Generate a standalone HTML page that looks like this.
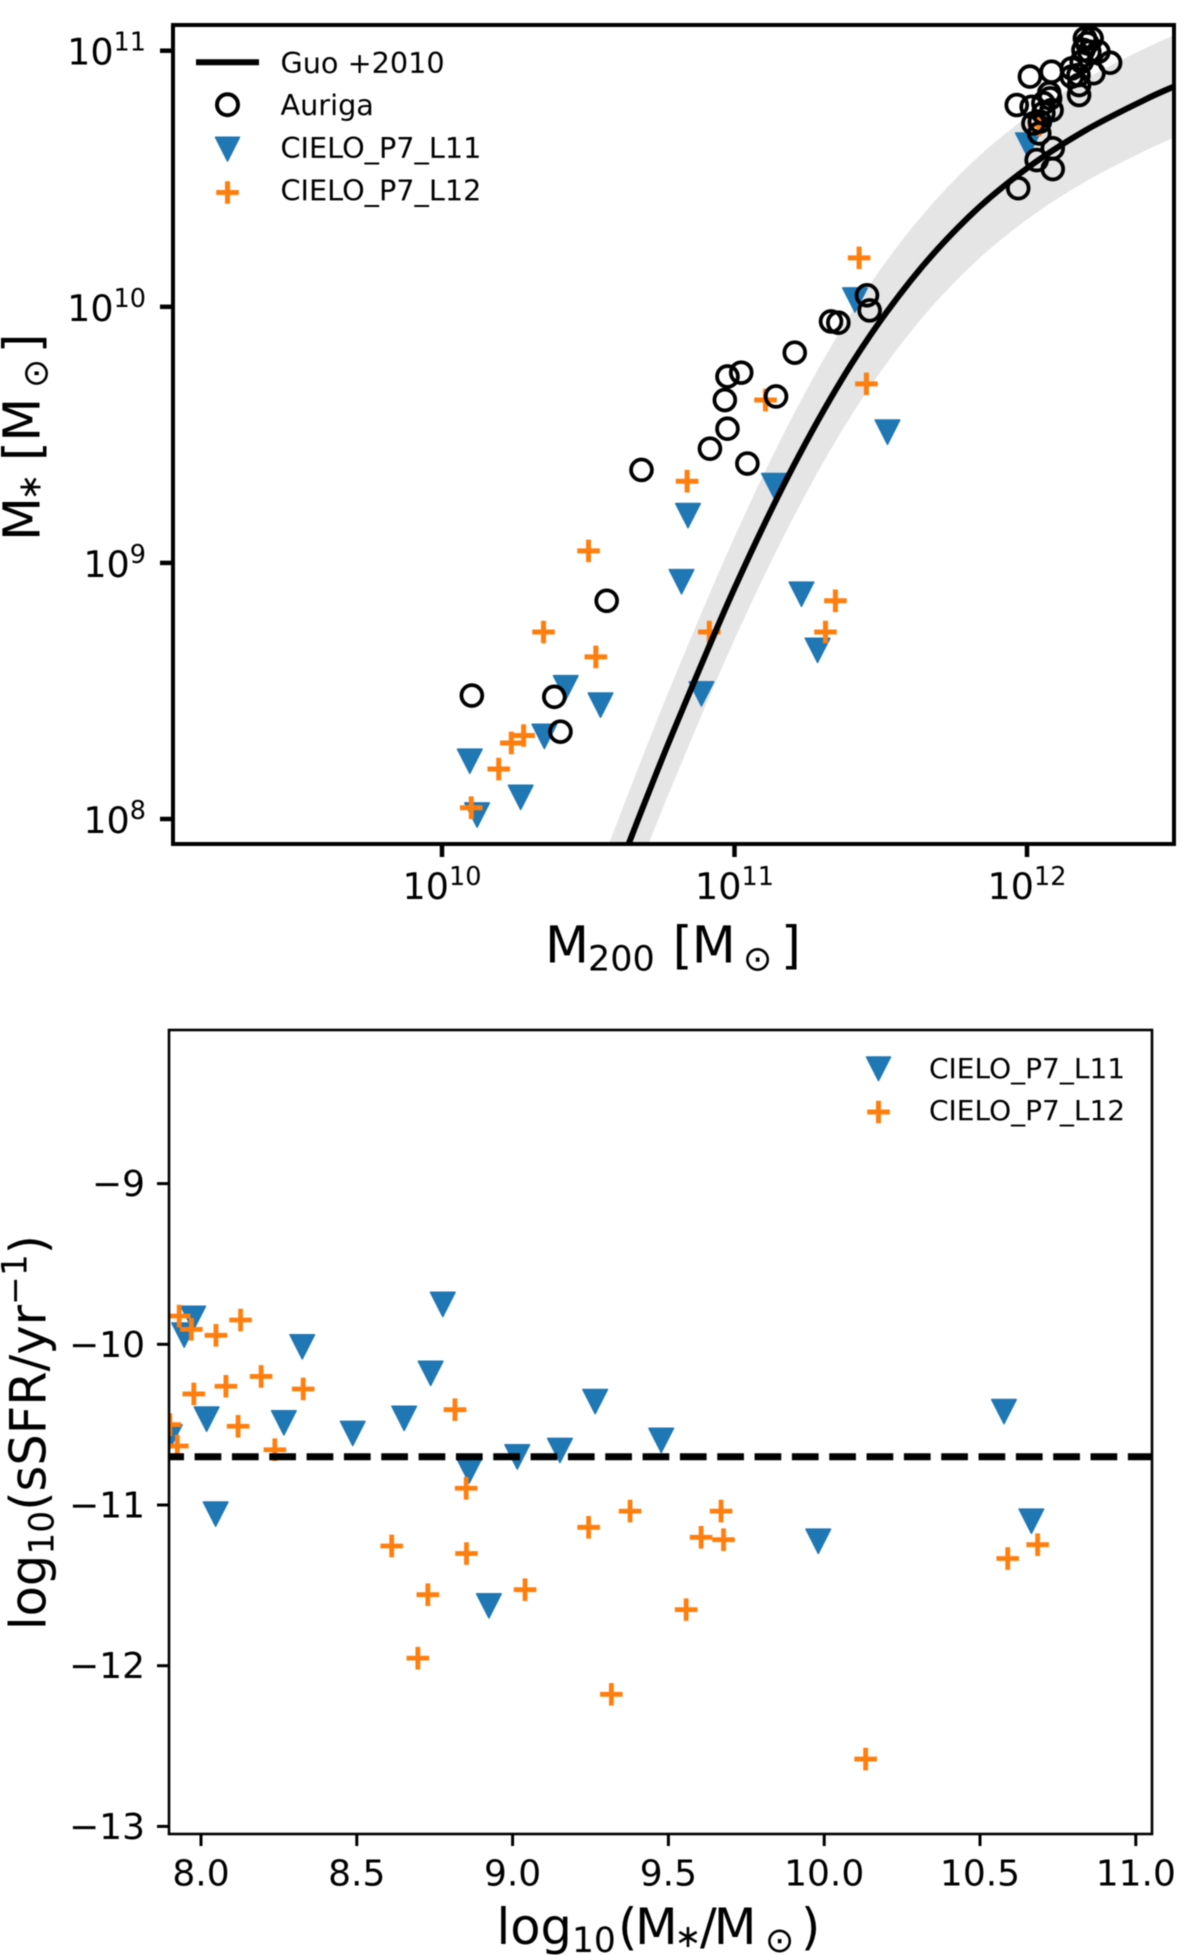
<!DOCTYPE html>
<html>
<head>
<meta charset="utf-8">
<title>Stellar mass and sSFR chart</title>
<style>
html,body{margin:0;padding:0;background:#fff;}
svg{display:block;font-family:"DejaVu Sans","Liberation Sans",sans-serif;fill:#000;filter:blur(0.45px);}
</style>
</head>
<body>
<svg id="figure" xmlns="http://www.w3.org/2000/svg" width="1200" height="1955" viewBox="0 0 1200 1955">
  <defs>
    <clipPath id="clip-top"><rect x="173" y="25" width="1001" height="819"/></clipPath>
    <clipPath id="clip-bot"><rect x="169" y="1030" width="983" height="804"/></clipPath>
  </defs>
  <rect x="0" y="0" width="1200" height="1955" fill="#fff"/>
  <g id="top-marks" clip-path="url(#clip-top)"></g>
  <g id="bot-marks" clip-path="url(#clip-bot)"></g>
  <rect x="173" y="25" width="1001" height="819" fill="none" stroke="#000" stroke-width="4"/>
  <rect x="169" y="1030" width="983" height="804" fill="none" stroke="#000" stroke-width="2.6"/>
  <g id="top-ticks"></g>
  <g id="bot-ticks"></g>

  <g>
    <line x1="196" y1="62.3" x2="259" y2="62.3" stroke="#000" stroke-width="6"/>
    <text x="280.5" y="73" font-size="28.7">Guo +2010</text>
    <circle cx="227.5" cy="104.7" r="10.5" fill="none" stroke="#000" stroke-width="4"/>
    <text x="280.5" y="115" font-size="28.7">Auriga</text>
    <path d="M215.5 137.3H239.5L227.5 161Z" fill="#1f77b4" stroke="#1f77b4" stroke-width="1.5" stroke-linejoin="round"/>
    <text x="280.5" y="158" font-size="28.7">CIELO_P7_L11</text>
    <path d="M216.2 192.5H238.8M227.5 181.2V203.8" fill="none" stroke="#ff7f0e" stroke-width="5"/>
    <text x="280.5" y="200.5" font-size="28.7">CIELO_P7_L12</text>
  </g>

  <g>
    <path d="M866.5 1057H890.5L878.5 1080.5Z" fill="#1f77b4" stroke="#1f77b4" stroke-width="1.5" stroke-linejoin="round"/>
    <text x="929" y="1078" font-size="28">CIELO_P7_L11</text>
    <path d="M867.2 1112H889.8M878.5 1100.7V1123.3" fill="none" stroke="#ff7f0e" stroke-width="5"/>
    <text x="929" y="1120" font-size="28">CIELO_P7_L12</text>
  </g>

  <text font-size="51"><tspan x="545" y="962.3">M</tspan><tspan x="588" y="970.7" font-size="35">200</tspan><tspan x="672.6" y="962.3">[</tspan><tspan x="691.7" y="962.3">M</tspan><tspan x="743" y="970.5" font-size="35">⊙</tspan><tspan x="781" y="962.3">]</tspan></text>
  <text transform="translate(39.5,541) rotate(-90)" font-size="51"><tspan x="0" y="0">M</tspan><tspan x="40.6" y="1" font-size="32">∗</tspan><tspan x="79.9" y="0">[</tspan><tspan x="99.3" y="0">M</tspan><tspan x="153" y="8" font-size="35">⊙</tspan><tspan x="187.7" y="0">]</tspan></text>
  <text font-size="49.5"><tspan x="496.5" y="1944">log</tspan><tspan font-size="34.5" y="1952">10</tspan><tspan x="618" y="1944">(</tspan><tspan x="635" y="1944">M</tspan><tspan x="674.6" y="1947" font-size="32">∗</tspan><tspan x="700" y="1944">/</tspan><tspan x="713.7" y="1944">M</tspan><tspan x="765" y="1952" font-size="35">⊙</tspan><tspan x="801" y="1944">)</tspan></text>
  <text transform="translate(45.5,1432.5) rotate(-90)" font-size="49.5" text-anchor="middle">log<tspan font-size="34.5" dy="8">10</tspan><tspan dy="-8">(sSFR/yr</tspan><tspan font-size="34.5" dy="-19">−1</tspan><tspan dy="19">)</tspan></text>
</svg>
<script>
// ---- top panel data (log10 of solar masses) ----
const guoLogM200 = [10.55, 10.6, 10.65, 10.7, 10.8, 11.0, 11.2, 11.4, 11.6, 11.8, 12.0, 12.2, 12.4, 12.5];
const guoLogMstar = [7.642, 7.79, 7.938, 8.084, 8.367, 8.901, 9.375, 9.777, 10.099, 10.35, 10.541, 10.689, 10.807, 10.859];
const guoScatterDex = [0.2];
const aurigaLogM200 = [10.102, 10.384, 10.405, 10.563, 10.682, 10.916, 10.976, 10.967, 10.976, 11.023, 11.044, 11.142, 11.206, 11.330, 11.355, 11.453, 11.462, 12.198, 12.221, 12.206, 12.193, 12.213, 12.244, 12.284, 12.153, 12.176, 12.153, 12.178, 12.178, 12.227, 12.187, 12.010, 12.084, 11.965, 12.016, 12.076, 12.079, 12.084, 12.056, 12.022, 12.042, 12.044, 12.088, 12.033, 12.088, 11.970, 12.056];
const aurigaLogMstar = [8.482, 8.477, 8.341, 8.852, 9.363, 9.446, 9.524, 9.636, 9.728, 9.743, 9.388, 9.650, 9.821, 9.943, 9.938, 10.045, 9.986, 11.048, 11.048, 11.029, 11.003, 10.996, 10.996, 10.953, 10.931, 10.905, 10.899, 10.866, 10.827, 10.912, 10.957, 10.899, 10.918, 10.788, 10.781, 10.834, 10.814, 10.768, 10.795, 10.716, 10.677, 10.723, 10.619, 10.573, 10.538, 10.463, 10.756];
const l11LogM200 = [10.120, 10.095, 10.269, 10.350, 10.423, 10.542, 10.819, 10.841, 10.887, 11.135, 11.229, 11.284, 11.412, 11.523, 12.003];
const l11LogMstar = [8.016, 8.226, 8.085, 8.323, 8.513, 8.445, 8.927, 9.185, 8.489, 9.302, 8.878, 8.659, 10.027, 9.511, 10.632];
const l12LogM200 = [10.100, 10.194, 10.237, 10.279, 10.347, 10.501, 10.526, 10.838, 10.914, 11.106, 11.311, 11.345, 11.426, 11.451, 12.041];
const l12LogMstar = [8.044, 8.195, 8.297, 8.326, 8.730, 9.047, 8.633, 9.319, 8.730, 9.636, 8.730, 8.852, 10.191, 9.699, 10.710];
const topXTicks = [10, 11, 12];
const topXTickExps = ['10', '11', '12'];
const topYTicks = [8, 9, 10, 11];
const topYTickExps = ['8', '9', '10', '11'];
// ---- bottom panel data ----
const sfrL11LogMstar = [7.975, 7.946, 8.018, 8.047, 8.266, 8.325, 8.487, 8.652, 8.737, 8.776, 8.861, 9.015, 9.152, 9.265, 9.477, 9.981, 10.577, 10.665, 8.924, 7.900];
const sfrL11LogSsfr = [-9.838, -9.942, -10.465, -11.056, -10.488, -10.015, -10.554, -10.460, -10.180, -9.751, -10.787, -10.700, -10.660, -10.356, -10.597, -11.225, -10.418, -11.100, -11.627, -10.575];
const sfrL12LogMstar = [7.930, 7.969, 8.048, 8.127, 7.977, 8.080, 8.193, 8.328, 8.119, 7.924, 7.900, 8.237, 8.815, 8.851, 8.612, 8.852, 8.728, 8.696, 9.040, 9.244, 9.377, 9.317, 9.557, 9.605, 9.669, 9.677, 10.133, 10.589, 10.685];
const sfrL12LogSsfr = [-9.824, -9.907, -9.944, -9.849, -10.309, -10.261, -10.200, -10.278, -10.510, -10.633, -10.500, -10.656, -10.407, -10.896, -11.255, -11.302, -11.558, -11.953, -11.527, -11.139, -11.038, -12.178, -11.651, -11.201, -11.038, -11.216, -12.581, -11.333, -11.247];
const quenchedThreshold = [-10.70];
const botXTicks = [8, 8.5, 9, 9.5, 10, 10.5, 11];
const botXTickLabels = ['8.0', '8.5', '9.0', '9.5', '10.0', '10.5', '11.0'];
const botYTicks = [-9, -10, -11, -12, -13];
const botYTickLabels = ['−9', '−10', '−11', '−12', '−13'];

const NS = 'http://www.w3.org/2000/svg';
function xTop(v) { return 442 + (v - 10) * 292.5; }
function yTop(v) { return 819 - (v - 8) * 256.1; }
function xBot(v) { return 201 + (v - 8) * 311.6; }
function yBot(v) { return 1344.3 - (v + 10) * 160.7; }
function mk(tag, parent, attrs) {
  const n = document.createElementNS(NS, tag);
  for (const k in attrs) n.setAttribute(k, attrs[k]);
  parent.appendChild(n);
  return n;
}
function smooth(pts) {
  let d = 'M' + pts[0][0] + ' ' + pts[0][1];
  for (let i = 0; i < pts.length - 1; i++) {
    const p0 = pts[Math.max(i - 1, 0)], p1 = pts[i], p2 = pts[i + 1], p3 = pts[Math.min(i + 2, pts.length - 1)];
    d += 'C' + (p1[0] + (p2[0] - p0[0]) / 6) + ' ' + (p1[1] + (p2[1] - p0[1]) / 6) + ' ' +
         (p2[0] - (p3[0] - p1[0]) / 6) + ' ' + (p2[1] - (p3[1] - p1[1]) / 6) + ' ' + p2[0] + ' ' + p2[1];
  }
  return d;
}
function triPath(cx, cy) {
  return 'M' + (cx - 12.3) + ' ' + (cy - 12) + 'H' + (cx + 12.3) + 'L' + cx + ' ' + (cy + 12.2) + 'Z';
}
function plusPath(cx, cy) {
  return 'M' + (cx - 11.3) + ' ' + cy + 'H' + (cx + 11.3) + 'M' + cx + ' ' + (cy - 11.3) + 'V' + (cy + 11.3);
}
function tickText(parent, x, y, anchor, size, exp) {
  const t = mk('text', parent, { x: x, y: y, 'text-anchor': anchor, 'font-size': size });
  if (exp !== undefined) {
    t.appendChild(document.createTextNode('10'));
    const s = mk('tspan', t, { 'font-size': 25.5, dy: -14 });
    s.textContent = exp;
  }
  return t;
}

const topMarks = document.getElementById('top-marks');
const botMarks = document.getElementById('bot-marks');
const topTicks = document.getElementById('top-ticks');
const botTicks = document.getElementById('bot-ticks');

// Guo band
const upper = guoLogM200.map((m, i) => [xTop(m), yTop(guoLogMstar[i] + guoScatterDex[0])]);
const lower = guoLogM200.map((m, i) => [xTop(m), yTop(guoLogMstar[i] - guoScatterDex[0])]).reverse();
const band = mk('path', topMarks, { d: smooth(upper) + smooth(lower).replace('M', 'L') + 'Z', fill: '#e5e5e5', stroke: 'none' });



// L11 points, top panel
l11LogM200.forEach((m, i) => {
  const el = mk('path', topMarks, { d: triPath(xTop(m), yTop(l11LogMstar[i])), fill: '#1f77b4', stroke: '#1f77b4', 'stroke-width': 1.5, 'stroke-linejoin': 'round' });
  
  
});
// L12 points, top panel
l12LogM200.forEach((m, i) => {
  const el = mk('path', topMarks, { d: plusPath(xTop(m), yTop(l12LogMstar[i])), fill: 'none', stroke: '#ff7f0e', 'stroke-width': 5 });
  
  
});
// Guo line
const guoLine = mk('path', topMarks, { d: smooth(guoLogM200.map((m, i) => [xTop(m), yTop(guoLogMstar[i])])), fill: 'none', stroke: '#000', 'stroke-width': 6 });


// Auriga
aurigaLogM200.forEach((m, i) => {
  const el = mk('circle', topMarks, { cx: xTop(m), cy: yTop(aurigaLogMstar[i]), r: 10.4, fill: 'none', stroke: '#000', 'stroke-width': 3.8 });
  
  
});

// top ticks
topXTicks.forEach((v, i) => {
  const tk = mk('line', topTicks, { x1: xTop(v), x2: xTop(v), y1: 844, y2: 857, stroke: '#000', 'stroke-width': 4.5 });
  
  
  const lb = tickText(topTicks, xTop(v), 899, 'middle', 36.5, topXTickExps[i]);
  
  
});
topYTicks.forEach((v, i) => {
  const tk = mk('line', topTicks, { x1: 160, x2: 173, y1: yTop(v), y2: yTop(v), stroke: '#000', 'stroke-width': 4.5 });
  
  
  const lb = tickText(topTicks, 146, yTop(v) + 14, 'end', 36.5, topYTickExps[i]);
  
  
});

// bottom panel marks
sfrL11LogMstar.forEach((m, i) => {
  const el = mk('path', botMarks, { d: triPath(xBot(m), yBot(sfrL11LogSsfr[i])), fill: '#1f77b4', stroke: '#1f77b4', 'stroke-width': 1.5, 'stroke-linejoin': 'round' });
  
  
});
sfrL12LogMstar.forEach((m, i) => {
  const el = mk('path', botMarks, { d: plusPath(xBot(m), yBot(sfrL12LogSsfr[i])), fill: 'none', stroke: '#ff7f0e', 'stroke-width': 4.8 });
  
  
});
const dash = mk('line', botMarks, { x1: 169, x2: 1152, y1: yBot(quenchedThreshold[0]), y2: yBot(quenchedThreshold[0]), stroke: '#000', 'stroke-width': 7, 'stroke-dasharray': '26.7 10.63', 'stroke-dashoffset': 11.7 });



// bottom ticks
botXTicks.forEach((v, i) => {
  const tk = mk('line', botTicks, { x1: xBot(v), x2: xBot(v), y1: 1834, y2: 1846, stroke: '#000', 'stroke-width': 3 });
  
  
  const lb = tickText(botTicks, xBot(v), 1885.5, 'middle', 36);
  lb.textContent = botXTickLabels[i];
  
  
});
botYTicks.forEach((v, i) => {
  const tk = mk('line', botTicks, { x1: 157, x2: 169, y1: yBot(v), y2: yBot(v), stroke: '#000', 'stroke-width': 3 });
  
  
  const lb = tickText(botTicks, 145, yBot(v) + 12.5, 'end', 36);
  lb.textContent = botYTickLabels[i];
  
  
});
</script>
</body>
</html>
